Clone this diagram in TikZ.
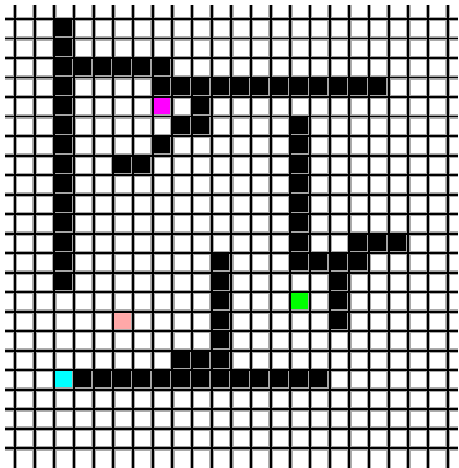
\documentclass[tikz,border=0pt]{standalone}
\usepackage{xcolor}
\usepackage{tikz}
\definecolor{wallx}{HTML}{000000}
\definecolor{startx}{HTML}{00FFFF}
\definecolor{goalx}{HTML}{00FF00}
\definecolor{agentx}{HTML}{FF00FF}
\definecolor{pinkx}{HTML}{FFA8A8}
\definecolor{halox}{HTML}{A8A8A8}
\tikzset{
  halo/.style={halox,line width=4.6pt},
  gridline/.style={black,line width=1.9pt}
}
% one square of the maze, column #2, row #3
\newcommand{\mazecell}[3]{\fill[#1] ({15+19.67*#2},{19+19.51*#3}) rectangle ++(17.2,17.1);}

\begin{document}
\begin{tikzpicture}[x=1pt,y=-1pt]
\useasboundingbox[fill=white] (0,0) rectangle (458,468);
\foreach \k in {0,...,22}{\draw[halo] ({15+19.67*\k},5)--({15+19.67*\k},468);}
\foreach \k in {0,...,22}{\draw[halo] (5,{19+19.51*\k})--(458,{19+19.51*\k});}
% walls
\foreach \r in {0,...,13}{\mazecell{wallx}{2}{\r}}
\foreach \c in {3,...,7}{\mazecell{wallx}{\c}{2}}
\foreach \c in {7,...,18}{\mazecell{wallx}{\c}{3}}
\mazecell{wallx}{9}{4}
\foreach \c in {8,9}{\mazecell{wallx}{\c}{5}}
\mazecell{wallx}{7}{6}
\foreach \c in {5,6}{\mazecell{wallx}{\c}{7}}
\foreach \r in {5,...,12}{\mazecell{wallx}{14}{\r}}
\foreach \c in {17,18,19}{\mazecell{wallx}{\c}{11}}
\foreach \c in {15,16,17}{\mazecell{wallx}{\c}{12}}
\foreach \r in {13,14,15}{\mazecell{wallx}{16}{\r}}
\foreach \r in {12,...,18}{\mazecell{wallx}{10}{\r}}
\foreach \c in {8,9}{\mazecell{wallx}{\c}{17}}
\foreach \c in {3,...,15}{\mazecell{wallx}{\c}{18}}
% marked squares
\mazecell{agentx}{7}{4}
\mazecell{goalx}{14}{14}
\mazecell{pinkx}{5}{15}
\mazecell{startx}{2}{18}
\foreach \k in {0,...,22}{\draw[gridline] ({15+19.67*\k},5)--({15+19.67*\k},468);}
\foreach \k in {0,...,22}{\draw[gridline] (5,{19+19.51*\k})--(458,{19+19.51*\k});}
\end{tikzpicture}
\end{document}
